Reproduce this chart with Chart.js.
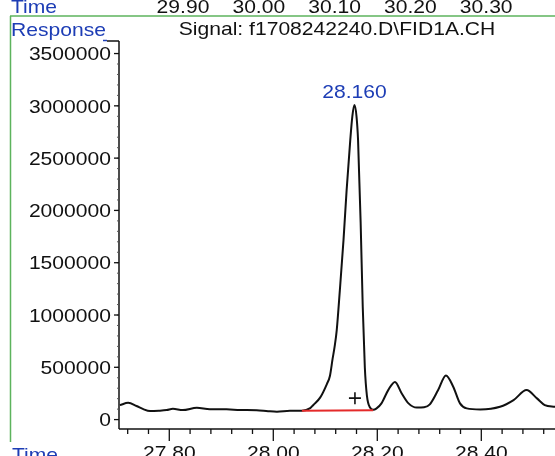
<!DOCTYPE html>
<html>
<head>
<meta charset="utf-8">
<title>FID1A chromatogram</title>
<script src="https://cdn.jsdelivr.net/npm/chart.js@4.4.1/dist/chart.umd.min.js"></script>
<style>
  html, body { margin: 0; padding: 0; background: #fff; }
  canvas { display: block; }
</style>
</head>
<body>
<canvas id="chromChart" width="555" height="456"></canvas>
<script>
// signal trace (min, counts)
const times = [27.705, 27.721, 27.737, 27.750, 27.763, 27.780, 27.795, 27.807, 27.826, 27.853,
  27.878, 27.910, 27.936, 27.968, 27.990, 28.007, 28.032, 28.055, 28.071, 28.077,
  28.090, 28.103, 28.109, 28.114, 28.118, 28.122, 28.128, 28.135, 28.141, 28.148,
  28.152, 28.156, 28.160, 28.163, 28.168, 28.172, 28.176, 28.180, 28.186, 28.192,
  28.198, 28.208, 28.221, 28.234, 28.247, 28.260, 28.276, 28.290, 28.301, 28.317,
  28.332, 28.346, 28.359, 28.372, 28.398, 28.436, 28.462, 28.487, 28.507, 28.522, 28.542];
const response = [138000, 160000, 130000, 100000, 82000, 85000, 91000, 103000, 91000, 113000,
  98000, 98000, 92000, 90000, 80000, 75000, 84000, 85000, 110000, 140000,
  210000, 340000, 420000, 580000, 700000, 856000, 1238000, 1716000, 2194000, 2672000,
  2900000, 3007000, 2900000, 2672000, 1878000, 1078000, 500000, 230000, 115000, 95000,
  105000, 155000, 282000, 360000, 250000, 155000, 115000, 118000, 145000, 282000,
  422000, 314000, 155000, 107000, 97000, 122000, 186000, 282000, 203000, 139000, 122000];

// integration baseline and peak marker
const baseTimes = [28.055, 28.192];
const baseValues = [85000, 90000];
const peakLabel = '28.160';
const peakTime = 28.156;
const peakValue = 3007000;
const markTime = 28.157;
const markValue = 205000;

// axes
const yTicks = [0, 500000, 1000000, 1500000, 2000000, 2500000, 3000000, 3500000];
const xMajor = [27.80, 28.00, 28.20, 28.40];
const xMajorLabels = ['27.80', '28.00', '28.20', '28.40'];
const xMinor = [27.72, 27.76, 27.84, 27.88, 27.92, 27.96, 28.04, 28.08, 28.12, 28.16,
  28.24, 28.28, 28.32, 28.36, 28.44, 28.48, 28.52];
const topTimeLabels = ['29.90', '30.00', '30.10', '30.20', '30.30'];
const signalTitle = 'Signal: f1708242240.D\\FID1A.CH';

const BLUE = '#1d3db5';
const GREEN = '#5cb35c';
const INK = '#111';
const FONT = '18.5px "Liberation Sans", Arial, sans-serif';
const SX = 1.14;

function txt(ctx, s, x, y, align, color) {
    ctx.save();
    ctx.translate(x, y);
    ctx.scale(SX, 1);
    ctx.font = FONT;
    ctx.textAlign = align;
    ctx.textBaseline = 'alphabetic';
    ctx.fillStyle = color;
    ctx.fillText(s, 0, 0);
    ctx.restore();
}

function line(ctx, x1, y1, x2, y2, color, w) {
    ctx.beginPath();
    ctx.strokeStyle = color;
    ctx.lineWidth = w;
    ctx.moveTo(x1, y1);
    ctx.lineTo(x2, y2);
    ctx.stroke();
}

const decorPlugin = {
    id: 'decor',
    afterDraw(chart) {
        const ctx = chart.ctx;
        const xs = chart.scales.x;
        const ys = chart.scales.y;
        const area = chart.chartArea;

        // frame of the report page
        line(ctx, 10, 16, 555, 16, GREEN, 1.5);
        line(ctx, 10.5, 16, 10.5, 442, GREEN, 1.5);

        txt(ctx, 'Time', 11, 13, 'left', BLUE);
        topTimeLabels.forEach((s, i) => txt(ctx, s, 183 + i * 75.8, 13, 'center', INK));
        txt(ctx, 'Response', 11, 36, 'left', BLUE);
        line(ctx, 103, 40.5, 107, 40.5, BLUE, 1.5);
        txt(ctx, signalTitle, 337, 35, 'center', INK);

        // y axis
        const ax = area.left;
        line(ctx, 107, area.top, ax, area.top, INK, 1.5);
        line(ctx, ax, area.top, ax, area.bottom, INK, 1.5);
        for (let v = 100000; v < 3600000; v += 100000) {
            const py = ys.getPixelForValue(v);
            line(ctx, ax - 2, py, ax, py, '#555', 1);
        }
        yTicks.forEach(v => {
            const py = ys.getPixelForValue(v);
            line(ctx, ax - 5, py, ax, py, INK, 1.3);
            txt(ctx, String(v), ax - 8, py + 6.7, 'right', INK);
        });

        // x axis
        const by = area.bottom;
        line(ctx, ax, by, area.right, by, INK, 1.5);
        xMinor.forEach(t => {
            const px = xs.getPixelForValue(t);
            line(ctx, px, by, px, by + 5, INK, 1.3);
        });
        xMajor.forEach((t, i) => {
            const px = xs.getPixelForValue(t);
            line(ctx, px, by, px, by + 12, INK, 1.3);
            txt(ctx, xMajorLabels[i], px, 459, 'center', INK);
        });
        txt(ctx, 'Time', 12, 460.5, 'left', BLUE);

        // retention time label on the peak
        txt(ctx, peakLabel, xs.getPixelForValue(peakTime), ys.getPixelForValue(peakValue) - 7, 'center', BLUE);
    }
};

new Chart(document.getElementById('chromChart'), {
    type: 'line',
    data: {
        datasets: [{
            label: 'FID1A',
            data: times.map((t, i) => ({ x: t, y: response[i] })),
            borderColor: INK,
            borderWidth: 2,
            pointRadius: 0,
            cubicInterpolationMode: 'monotone',
            order: 2
        }, {
            label: 'baseline',
            data: baseTimes.map((t, i) => ({ x: t, y: baseValues[i] })),
            borderColor: '#e42a2a',
            borderWidth: 2,
            pointRadius: 0,
            order: 1
        }, {
            label: 'mark',
            data: [{ x: markTime, y: markValue }],
            showLine: false,
            pointStyle: 'cross',
            pointRadius: 6,
            borderColor: INK,
            borderWidth: 1.6,
            order: 0
        }]
    },
    options: {
        responsive: false,
        animation: false,
        devicePixelRatio: 1,
        layout: { autoPadding: false, padding: { left: 119, top: 41, right: 0, bottom: 27 } },
        plugins: {
            legend: { display: false },
            tooltip: { enabled: false }
        },
        scales: {
            x: { type: 'linear', display: false, min: 27.7033, max: 28.5417 },
            y: { type: 'linear', display: false, min: -90000, max: 3620000 }
        }
    },
    plugins: [decorPlugin]
});
</script>
</body>
</html>
